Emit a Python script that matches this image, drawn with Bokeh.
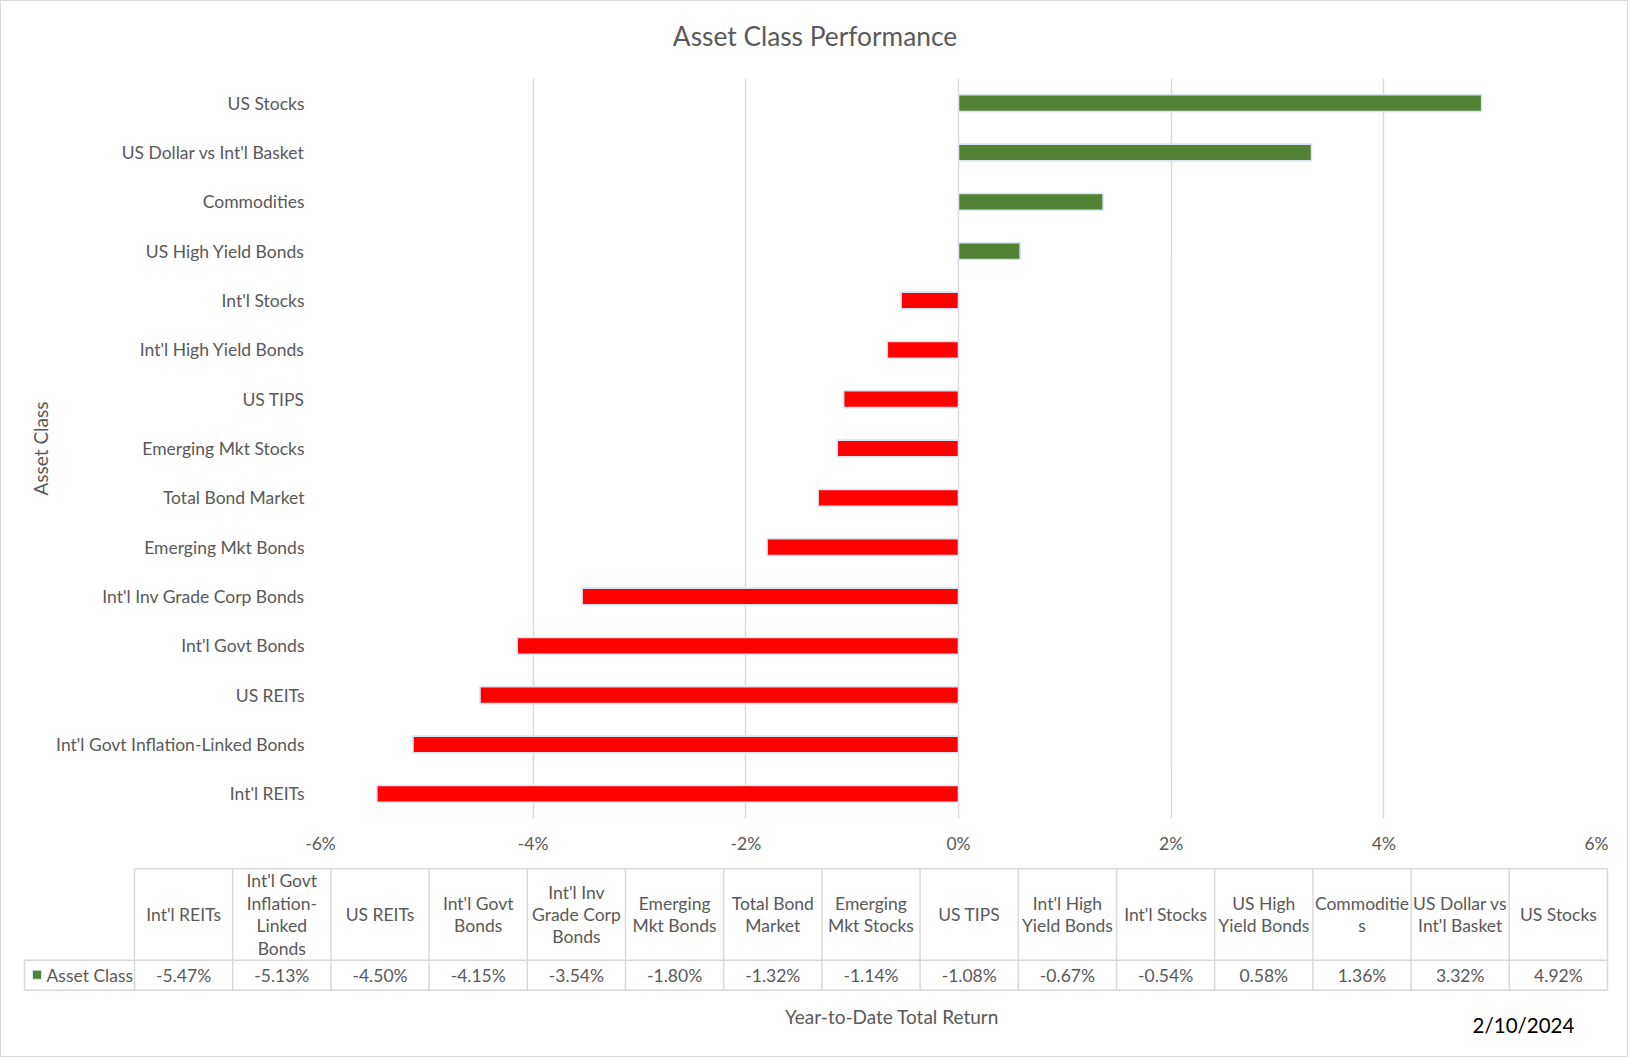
from bokeh.plotting import figure
from bokeh.layouts import column
from bokeh.models import ColumnDataSource, FactorRange, Range1d, FixedTicker, PrintfTickFormatter
from bokeh.core.properties import value
from bokeh.embed import file_html
from bokeh.resources import INLINE

# ---------------- data ----------------
categories = [
    "Int'l REITs", "Int'l Govt Inflation-Linked Bonds", "US REITs", "Int'l Govt Bonds",
    "Int'l Inv Grade Corp Bonds", "Emerging Mkt Bonds", "Total Bond Market",
    "Emerging Mkt Stocks", "US TIPS", "Int'l High Yield Bonds", "Int'l Stocks",
    "US High Yield Bonds", "Commodities", "US Dollar vs Int'l Basket", "US Stocks",
]
returns = [-5.47, -5.13, -4.50, -4.15, -3.54, -1.80, -1.32, -1.14, -1.08, -0.67,
           -0.54, 0.58, 1.36, 3.32, 4.92]
header_labels = [
    "Int'l REITs", "Int'l Govt\nInflation-\nLinked\nBonds", "US REITs", "Int'l Govt\nBonds",
    "Int'l Inv\nGrade Corp\nBonds", "Emerging\nMkt Bonds", "Total Bond\nMarket",
    "Emerging\nMkt Stocks", "US TIPS", "Int'l High\nYield Bonds", "Int'l Stocks",
    "US High\nYield Bonds", "Commoditie\ns", "US Dollar vs\nInt'l Basket", "US Stocks",
]
x_ticks = [-6, -4, -2, 0, 2, 4, 6]
chart_title = "Asset Class Performance"
y_title = "Asset Class"
x_title = "Year-to-Date Total Return"
series_name = "Asset Class"
date_text = "2/10/2024"

# ---------------- style ----------------
W = 1626
H_HEAD, H_CHART, H_FOOT = 77, 785, 193
FONT = "Lato"
TXT = "#595959"
GRID = "#D9D9D9"
POS = "#548235"
NEG = "#FF0000"
EDGE = "#DAE3F3"
LBL = "17.5px"
AXT = "19px"


def blank(h):
    return figure(width=W, height=h, x_range=Range1d(0, W), y_range=Range1d(h, 0),
                  title=None, x_axis_type=None, y_axis_type=None, toolbar_location=None,
                  output_backend="svg", min_border=0, outline_line_color=None,
                  frame_align=False)


# ---------------- header (title) ----------------
head = blank(H_HEAD)
head.text(x=[813.5], y=[34.7], text=[chart_title], text_align="center",
          text_baseline="middle", text_font=value(FONT), text_font_size="26.3px", text_color=TXT)

# ---------------- chart ----------------
src = ColumnDataSource(dict(cat=categories, val=returns,
                            color=[POS if v >= 0 else NEG for v in returns]))
chart = figure(width=W, height=H_CHART, y_range=FactorRange(factors=categories),
               x_range=Range1d(x_ticks[0], x_ticks[-1]), title=None, toolbar_location=None,
               output_backend="svg", min_border_left=319, min_border_right=31,
               min_border_top=0, min_border_bottom=45, outline_line_color=None,
               frame_align=False)
chart.hbar(y="cat", left=0, right="val", height=0.34, fill_color="color",
           line_color=EDGE, line_width=1.6, source=src)
chart.ygrid.visible = False
chart.xgrid.ticker = FixedTicker(ticks=x_ticks)
chart.xgrid.grid_line_color = GRID
chart.xgrid.grid_line_width = 1.4
chart.xaxis.ticker = FixedTicker(ticks=x_ticks)
chart.xaxis.formatter = PrintfTickFormatter(format="%d%%")
for ax in (chart.xaxis[0], chart.yaxis[0]):
    ax.axis_line_color = None
    ax.major_tick_line_color = None
    ax.minor_tick_line_color = None
    ax.major_tick_out = 0
    ax.major_tick_in = 0
    ax.major_label_text_font = FONT
    ax.major_label_text_font_size = LBL
    ax.major_label_text_color = TXT
chart.xaxis.major_label_standoff = 14
chart.yaxis.major_label_standoff = 16
chart.yaxis.axis_label = y_title
chart.yaxis.axis_label_text_font = FONT
chart.yaxis.axis_label_text_font_size = AXT
chart.yaxis.axis_label_text_font_style = "normal"
chart.yaxis.axis_label_text_color = TXT
chart.yaxis.axis_label_standoff = 1

# ---------------- footer (data table) ----------------
foot = blank(H_FOOT)
n = len(categories)
t_left, col_w, row_left = 133.0, 98.2, 23.0
t_top, t_mid, t_bot = 5.3, 96.7, 126.7
t_right = t_left + n * col_w

x0 = [t_left, row_left, row_left] + [t_left + k * col_w for k in range(n + 1)] + [row_left]
x1 = [t_right, t_right, t_right] + [t_left + k * col_w for k in range(n + 1)] + [row_left]
y0 = [t_top, t_mid, t_bot] + [t_top] * (n + 1) + [t_mid]
y1 = [t_top, t_mid, t_bot] + [t_bot] * (n + 1) + [t_bot]
foot.segment(x0=x0, y0=y0, x1=x1, y1=y1, line_color=GRID, line_width=1.5)

hx, hy, ht = [], [], []
line_gap = 22.4
head_mid = (t_top + t_mid) / 2
for k, lab in enumerate(header_labels):
    lines = lab.split("\n")
    for i, ln in enumerate(lines):
        hx.append(t_left + (k + 0.5) * col_w)
        hy.append(head_mid + (i - (len(lines) - 1) / 2) * line_gap)
        ht.append(ln)
foot.text(x=hx, y=hy, text=ht, text_align="center", text_baseline="middle",
          text_font=value(FONT), text_font_size=LBL, text_color=TXT)

row_mid = (t_mid + t_bot) / 2
foot.text(x=[t_left + (k + 0.5) * col_w for k in range(n)], y=[row_mid] * n,
          text=[f"{v:.2f}%" for v in returns], text_align="center", text_baseline="middle",
          text_font=value(FONT), text_font_size=LBL, text_color=TXT)
foot.scatter(x=[row_left + 12.5], y=[row_mid - 0.5], marker="square", size=9,
             fill_color=POS, line_color=EDGE, line_width=1)
foot.text(x=[row_left + 22], y=[row_mid], text=[series_name], text_align="left",
          text_baseline="middle", text_font=value(FONT), text_font_size=LBL, text_color=TXT)

foot.text(x=[890.5], y=[152.7], text=[x_title], text_align="center", text_baseline="middle",
          text_font=value(FONT), text_font_size=AXT, text_color=TXT)
foot.text(x=[1522], y=[161], text=[date_text], text_align="center", text_baseline="middle",
          text_font=value(FONT), text_font_size="20.5px", text_color="#000000")

layout = column(head, chart, foot, spacing=0,
                styles={"border": "1px solid #D9D9D9", "background-color": "white"})

open("out.html", "w").write(file_html(layout, INLINE))
